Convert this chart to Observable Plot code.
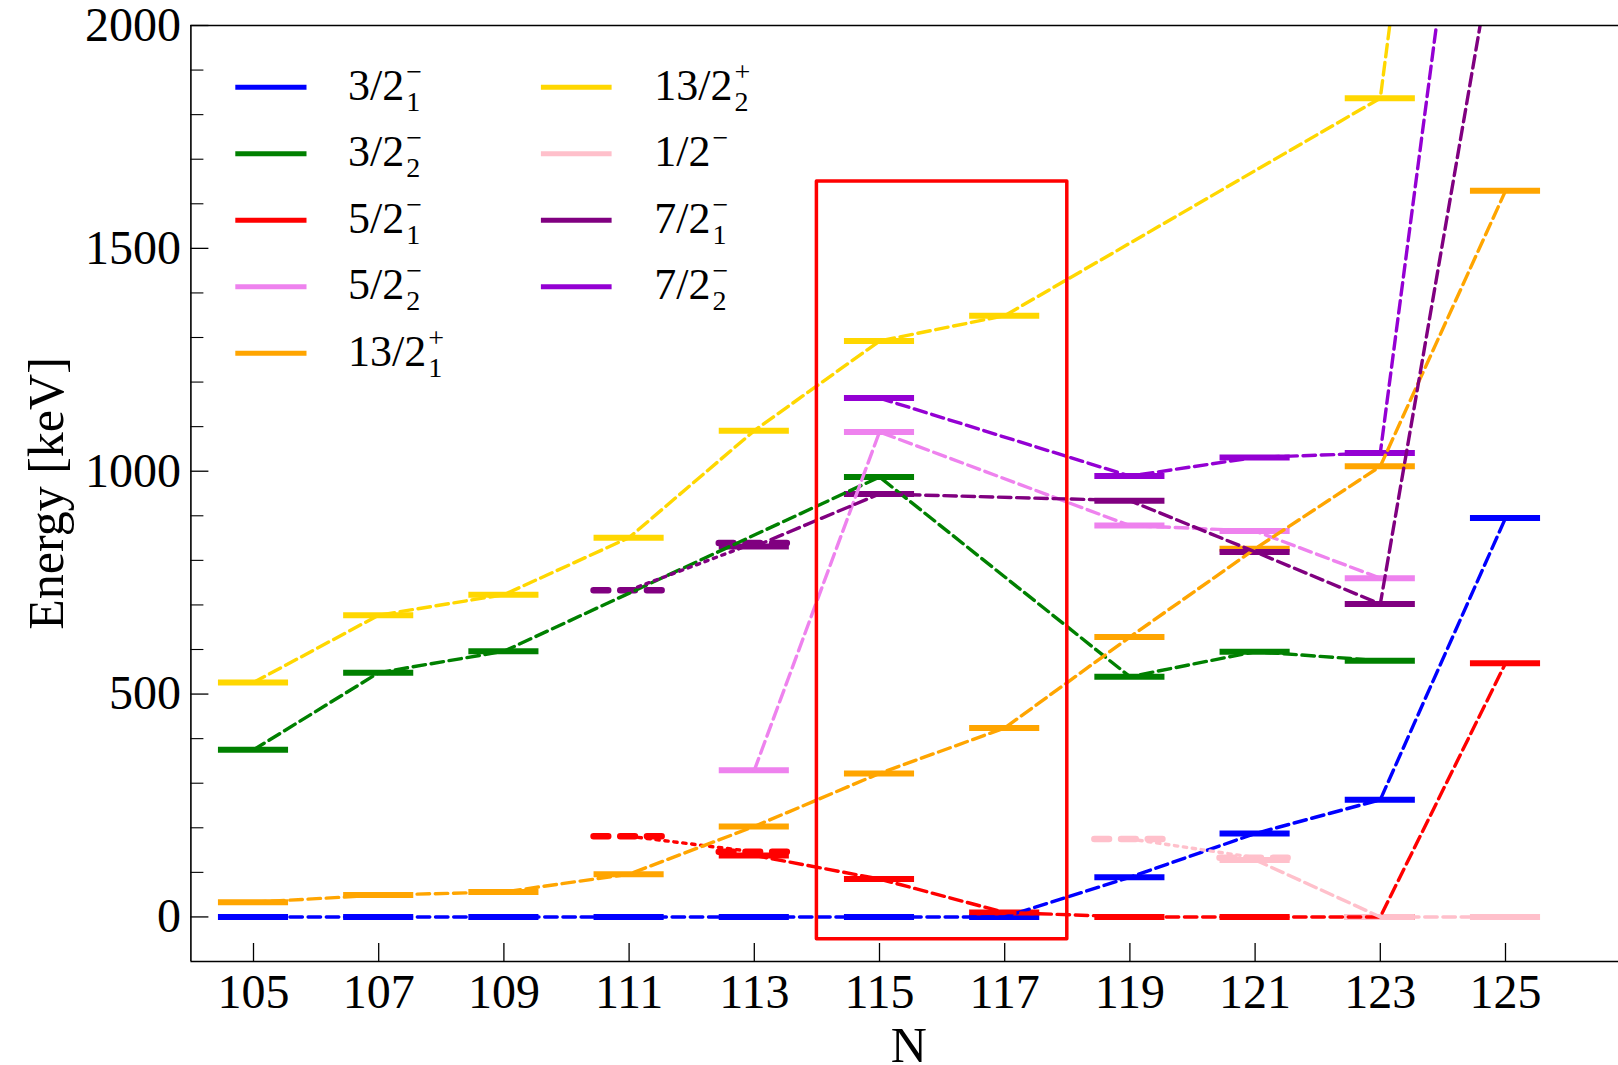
<!DOCTYPE html>
<html><head><meta charset="utf-8">
<script src="https://cdn.jsdelivr.net/npm/d3@7"></script>
<script src="https://cdn.jsdelivr.net/npm/@observablehq/plot@0.6"></script>
<style>
html,body{margin:0;padding:0;background:#fff;}
#wrap{position:relative;width:1618px;height:1065px;overflow:hidden;background:#fff;}
#wrap svg{display:block;}
#legend{position:absolute;left:0;top:0;pointer-events:none;}
</style></head><body><div id="wrap"></div>
<script>
// ---------- data ----------
const N = [105, 107, 109, 111, 113, 115, 117, 119, 121, 123, 125];

// firm levels (keV), aligned with N; null = no level
const E_3_2_1  = [0, 0, 0, 0, 0, 0, 0, 89, 187, 263, 895];
const E_3_2_2  = [375, 548, 596, null, null, 987, null, 539, 595, 575, null];
const E_5_2_1  = [null, null, null, null, 138, 85, 10, 0, 0, 0, 569];
const E_5_2_2  = [null, null, null, null, 329, 1088, null, 878, 866, 760, null];
const E_13_2_1 = [33, 49, 56, 96, 203, 322, 424, 628, 826, 1011, 1629];
const E_13_2_2 = [526, 677, 723, 851, 1091, 1292, 1349, null, null, 1837, 4000];
const E_1_2    = [null, null, null, null, null, null, null, null, 128, 0, 0];
const E_7_2_1  = [null, null, null, null, 831, 949, null, 934, 819, 702, 2330];
const E_7_2_2  = [null, null, null, null, null, 1164, null, 989, 1031, 1041, 3180];

// tentative levels (dashed bars, dotted links)
const T_5_2_1 = [null, null, null, 181, 146, null, null, null, null, null, null];
const T_1_2   = [null, null, null, null, null, null, null, 175, 133, null, null];
const T_7_2_1 = [null, null, null, 733, 839, null, null, null, null, null, null];

const seriesBase  = ["3/2", "3/2", "5/2", "5/2", "13/2", "13/2", "1/2", "7/2", "7/2"];
const seriesSub   = ["1", "2", "1", "2", "1", "2", "", "1", "2"];
const seriesSup   = ["\u2212", "\u2212", "\u2212", "\u2212", "+", "+", "\u2212", "\u2212", "\u2212"];
const seriesColor = ["#0000ff", "#008000", "#ff0000", "#ee82ee", "#ffa500", "#ffd700", "#ffc0cb", "#800080", "#9400d3"];
const seriesFirm  = [E_3_2_1, E_3_2_2, E_5_2_1, E_5_2_2, E_13_2_1, E_13_2_2, E_1_2, E_7_2_1, E_7_2_2];
const seriesTent  = [null, null, T_5_2_1, null, null, null, T_1_2, T_7_2_1, null];

const xTicks = [105, 107, 109, 111, 113, 115, 117, 119, 121, 123, 125];
const yMajor = [0, 500, 1000, 1500, 2000];
const yMinor = d3.range(100, 2000, 100).filter(v => v % 500 !== 0);
const box = [{x1: 114, x2: 118, y1: -50, y2: 1650}];

// ---------- layout ----------
const W = 1618, H = 1065;
const mL = 190.4, mT = 25, mB = 104, mR = 0;
const unit = 62.6;
const frameW = W - mL - mR, frameH = H - mT - mB;
const half = 0.56;
const FONT = "'Liberation Serif', 'Times New Roman', serif";

const toPts = arr => arr ? N.map((n, i) => ({N: n, E: arr[i]})).filter(d => d.E != null) : [];

const barMarks = [], lineMarks = [];
seriesFirm.forEach((arr, k) => {
  const c = seriesColor[k];
  const firm = toPts(arr), tent = toPts(seriesTent[k]);
  if (tent.length) {
    barMarks.push(Plot.ruleY(tent, {x1: d => d.N - half, x2: d => d.N + half, y: "E", stroke: c,
      strokeWidth: 6.5, strokeDasharray: "14.7,12", strokeLinecap: "round", clip: true}));
    lineMarks.push(Plot.line(tent, {x: "N", y: "E", stroke: c, strokeWidth: 3.4,
      strokeDasharray: "3.4,5.6", clip: true}));
  }
  barMarks.push(Plot.ruleY(firm, {x1: d => d.N - half, x2: d => d.N + half, y: "E", stroke: c,
    strokeWidth: 6, clip: true}));
  lineMarks.push(Plot.line(firm, {x: "N", y: "E", stroke: c, strokeWidth: 3.4,
    strokeDasharray: "12.5,5.7", clip: true}));
});

const chart = Plot.plot({
  width: W, height: H,
  marginLeft: mL, marginTop: mT, marginBottom: mB, marginRight: mR,
  style: {fontFamily: FONT, background: "#fff", color: "#000", overflow: "visible"},
  x: {domain: [104, 127], range: [mL, mL + 23 * unit]},
  y: {domain: [-100, 2000], range: [H - mB, mT]},
  marks: [
    ...barMarks,
    ...lineMarks,
    Plot.rect(box, {x1: "x1", x2: "x2", y1: "y1", y2: "y2", fill: "none", stroke: "#ff0000",
      strokeWidth: 3.5, strokeLinejoin: "round"}),
    // spines
    Plot.ruleX([104], {stroke: "#000", strokeWidth: 1.6}),
    Plot.ruleY([-100], {stroke: "#000", strokeWidth: 1.6}),
    Plot.ruleY([2000], {stroke: "#000", strokeWidth: 1.6}),
    // inward ticks
    Plot.tickX(xTicks, {x: d => d, insetTop: frameH - 18, stroke: "#000", strokeWidth: 1.3}),
    Plot.tickY(yMajor, {y: d => d, insetRight: frameW - 18, stroke: "#000", strokeWidth: 1.3}),
    Plot.tickY(yMinor, {y: d => d, insetRight: frameW - 13, stroke: "#000", strokeWidth: 1.1}),
    Plot.axisX({ticks: xTicks, tickSize: 0, tickPadding: 12, fontSize: 48, label: null,
      tickFormat: d => String(d), fontFamily: FONT, fill: "#000"}),
    Plot.axisY({ticks: yMajor, tickSize: 0, tickPadding: 10, fontSize: 48, label: null,
      tickFormat: d => String(d), fontFamily: FONT, fill: "#000"}),
    Plot.text(["Energy [keV]"], {text: d => d, frameAnchor: "left", rotate: -90, dx: -144,
      fontSize: 50, fontFamily: FONT, fill: "#000", textAnchor: "middle", lineAnchor: "middle"}),
    Plot.text(["N"], {text: d => d, frameAnchor: "bottom", dx: 4, dy: 65, lineAnchor: "top",
      fontSize: 50, fontFamily: FONT, fill: "#000"})
  ]
});

const wrap = document.getElementById("wrap");
wrap.appendChild(chart);

// ---------- legend (overlay inside axes, as in the original) ----------
const leg = d3.select(wrap).append("svg").attr("id", "legend").attr("width", W).attr("height", H)
  .style("font-family", FONT);
const rowY0 = 87.3, rowDy = 66.5;
const colLineX = [[235.3, 306.5], [540.9, 611.6]];
const colTextX = [348, 654.3];
seriesBase.forEach((b, i) => {
  const col = i < 5 ? 0 : 1, row = i < 5 ? i : i - 5;
  const y = rowY0 + row * rowDy;
  leg.append("line").attr("x1", colLineX[col][0]).attr("x2", colLineX[col][1])
    .attr("y1", y).attr("y2", y).attr("stroke", seriesColor[i]).attr("stroke-width", 5);
  const t = leg.append("text").attr("x", colTextX[col]).attr("y", y + 12.5)
    .attr("font-size", 44).attr("fill", "#000").text(b);
  const w = t.node().getComputedTextLength();
  const sx = colTextX[col] + w + 2;
  if (seriesSub[i]) leg.append("text").attr("x", sx).attr("y", y + 12.5 + 11).attr("font-size", 28)
    .attr("fill", "#000").text(seriesSub[i]);
  leg.append("text").attr("x", sx).attr("y", y + 12.5 - 19).attr("font-size", 28)
    .attr("fill", "#000").text(seriesSup[i]);
});
</script></body></html>
